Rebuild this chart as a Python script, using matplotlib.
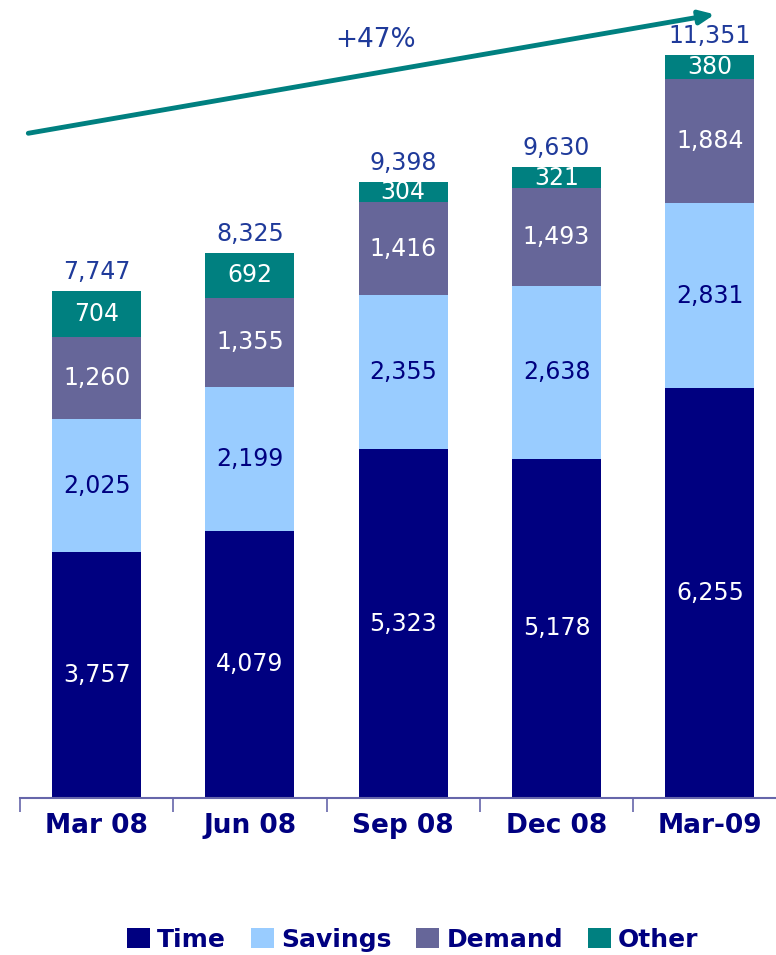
import numpy as np
import matplotlib
matplotlib.use("Agg")
import matplotlib.pyplot as plt

# ── Data ───────────────────────────────────────────────────────────────────────
quarters = ["Mar 08", "Jun 08", "Sep 08", "Dec 08", "Mar-09"]
time_dep = [3757, 4079, 5323, 5178, 6255]
savings = [2025, 2199, 2355, 2638, 2831]
demand = [1260, 1355, 1416, 1493, 1884]
other = [704, 692, 304, 321, 380]
totals = [7747, 8325, 9398, 9630, 11351]
growth_label = "+47%"

SERIES = [
    ("Time", time_dep, "#000080", "white"),
    ("Savings", savings, "#99CCFF", "#000080"),
    ("Demand", demand, "#666699", "white"),
    ("Other", other, "#008080", "white"),
]
NAVY = "#000080"
TOTAL_COLOR = "#1F3A9A"
AXIS_COLOR = "#6666AA"

plt.rcParams["font.family"] = ["DejaVu Sans"]

fig = plt.figure(figsize=(7.76, 9.55), dpi=100)
ax = fig.add_axes([20 / 776, 157 / 955, 756 / 776, 798 / 955])

x = np.arange(len(quarters))
bottom = np.zeros(len(quarters))
for name, vals, color, txt in SERIES:
    vals = np.array(vals, dtype=float)
    ax.bar(x, vals, bottom=bottom, width=0.58, color=color, label=name, zorder=2)
    for xi, b, v in zip(x, bottom, vals):
        ax.text(xi, b + v / 2, f"{int(v):,}", ha="center", va="center",
                color=txt, fontsize=17, zorder=3)
    bottom += vals

for xi, t in zip(x, totals):
    ax.annotate(f"{t:,}", (xi, t), xytext=(0, 5), textcoords="offset points",
                ha="center", va="bottom", color=TOTAL_COLOR, fontsize=17)

# growth arrow
ax.annotate("", xy=(0.919, 0.982), xytext=(0.011, 0.833),
            xycoords="axes fraction", textcoords="axes fraction",
            arrowprops=dict(arrowstyle="-|>,head_length=0.9,head_width=0.4",
                            color="#008080", lw=3.5, shrinkA=0, shrinkB=0))
ax.text(0.47, 0.95, growth_label, transform=ax.transAxes, ha="center",
        va="center", color=TOTAL_COLOR, fontsize=19)

for s in ["top", "right", "left"]:
    ax.spines[s].set_visible(False)
ax.spines["bottom"].set_color(AXIS_COLOR)
ax.spines["bottom"].set_linewidth(1.5)
ax.set_yticks([])
ax.set_xticks(x)
ax.set_xticklabels(quarters, fontsize=19, fontweight="bold", color=NAVY)
ax.tick_params(axis="x", which="major", length=0, pad=11)
ax.set_xticks(np.arange(len(quarters) + 1) - 0.5, minor=True)
ax.tick_params(axis="x", which="minor", length=10, width=1.2, color=AXIS_COLOR)

ax.set_xlim(-0.5, -0.5 + 756 / 153.3)
ax.set_ylim(0, 798 / 0.0655)

leg = fig.legend(loc="lower center", bbox_to_anchor=(0.532, -0.02), ncol=4,
                 frameon=False, fontsize=18, handlelength=0.9, handleheight=0.9,
                 handletextpad=0.3, columnspacing=1.0)
for t in leg.get_texts():
    t.set_color(NAVY)
    t.set_fontweight("bold")

fig.savefig("out.png", dpi=100)
